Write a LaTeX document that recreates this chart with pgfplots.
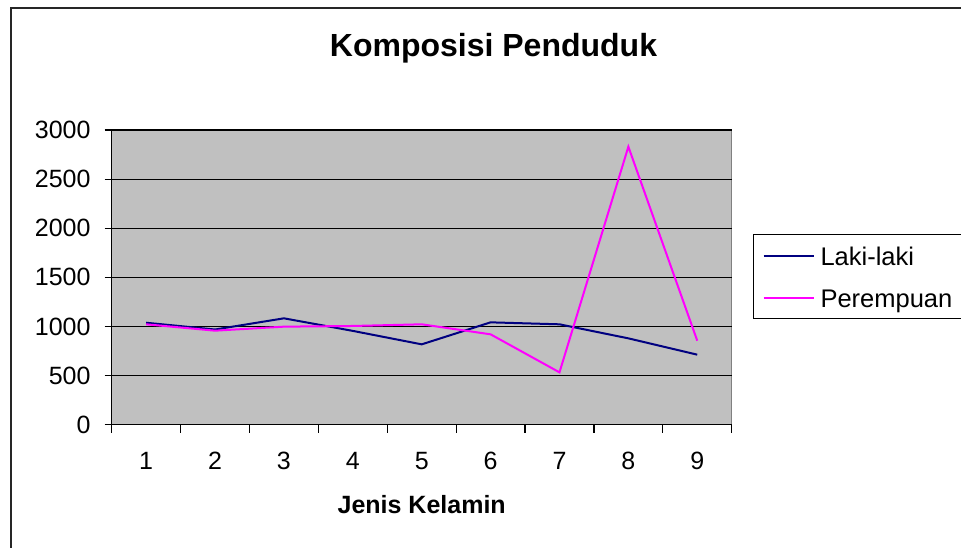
\documentclass[border=0pt]{standalone}
\usepackage{fontspec}
\setmainfont{Liberation Sans}
\usepackage{pgfplots}
\pgfplotsset{compat=1.18}
\definecolor{bggray}{HTML}{C0C0C0}
\definecolor{frgray}{HTML}{808080}
\definecolor{lakic}{HTML}{000080}
\definecolor{perc}{HTML}{FF00FF}
\begin{document}
\begin{tikzpicture}
\useasboundingbox (0,0) rectangle (961pt,-548pt);
\draw[line width=2.5pt, black!85] (11pt,-560pt) |- (975pt,-8pt);
\node[font=\fontsize{32}{37}\selectfont\bfseries, anchor=base] at (493.5pt,-56.7pt) {Komposisi Penduduk};
\node[font=\fontsize{25}{30}\selectfont\bfseries, anchor=base] at (421.7pt,-513pt) {Jenis Kelamin};
\begin{axis}[
  at={(111.7pt,-424.7pt)}, anchor=south west,
  scale only axis, width=620pt, height=294.7pt,
  xmin=0.5, xmax=9.5, ymin=0, ymax=3000,
  xtick={1,...,9},
  minor xtick={0.5,1.5,...,9.5},
  ytick={0,500,...,3000},
  ymajorgrids,
  grid style={black, line width=1.2pt},
  axis background/.style={fill=bggray, draw=frgray, line width=1.5pt},
  axis x line*=bottom, axis y line*=left,
  axis line style={black, line width=1.5pt},
  tick align=outside,
  major tick length=7pt, minor tick length=8pt,
  major x tick style={draw=none},
  tick style={black, line width=1.2pt},
  /pgf/number format/assume math mode=true,
  /pgf/number format/1000 sep={},
  tick label style={font=\fontsize{25}{30}\selectfont, inner sep=0pt},
  xticklabel style={anchor=north, yshift=-20.3pt},
  yticklabel style={anchor=east, xshift=-14pt},
  legend style={at={(1.03435,0.6471)}, anchor=north west,
    draw=black, line width=1pt, fill=white,
    inner xsep=9pt, inner ysep=8pt,
    column sep=6pt, row sep=16pt,
    font=\fontsize{25.5}{30}\selectfont,
    nodes={inner sep=0pt, text height=23pt, text depth=3pt}},
  legend cell align=left,
  legend image code/.code={\draw[#1, line width=2pt] (0pt,0pt) -- (50pt,0pt);},
]
\addplot[lakic, line width=2pt] coordinates {
(1,1038) (2,969) (3,1083) (4,955) (5,818) (6,1042) (7,1022) (8,879) (9,713)};
\addlegendentry{\makebox[133pt][l]{Laki-laki}}
\addplot[perc, line width=2pt] coordinates {
(1,1022) (2,957) (3,998) (4,1005) (5,1022) (6,920) (7,533) (8,2830) (9,855)};
\addlegendentry{\makebox[133pt][l]{Perempuan}}
\end{axis}
\end{tikzpicture}
\end{document}
